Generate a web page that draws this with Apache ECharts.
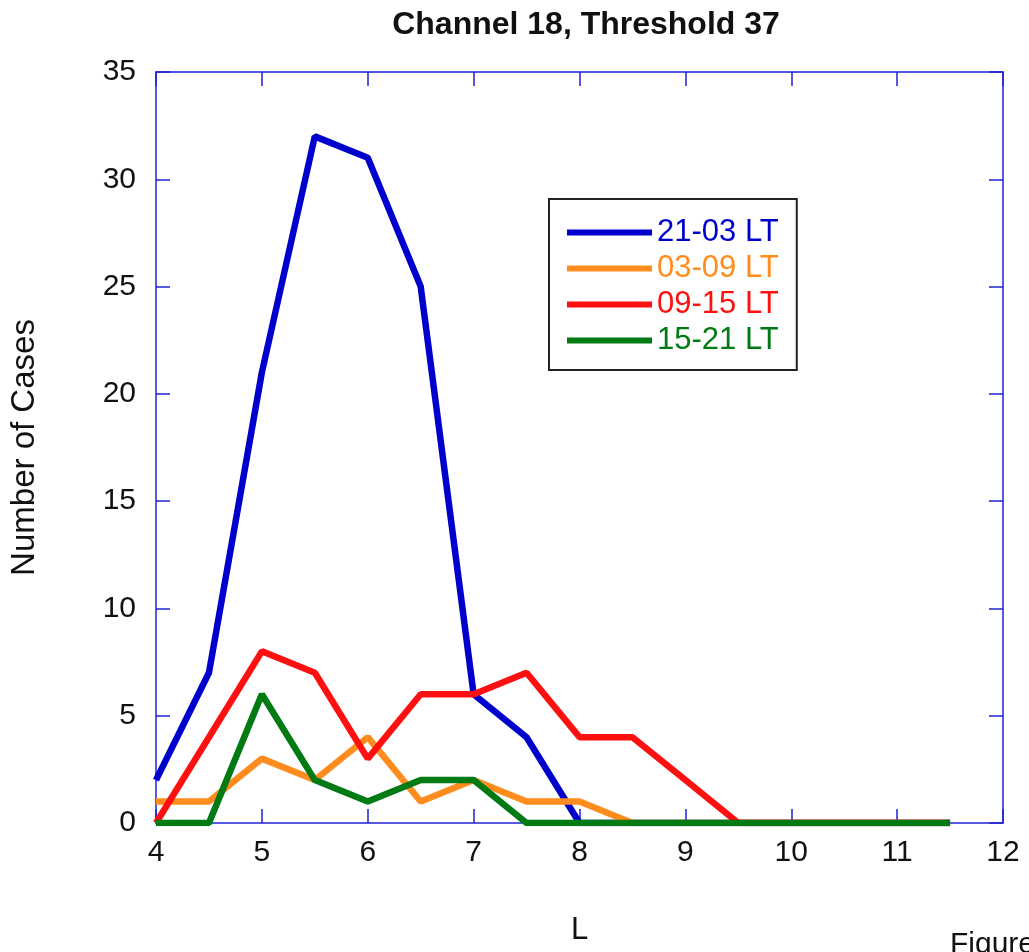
<!DOCTYPE html>
<html>
<head>
<meta charset="utf-8">
<style>
  html, body { margin: 0; padding: 0; background: #fff; }
  #chart { width: 1029px; height: 952px; }
</style>
<script src="https://cdn.jsdelivr.net/npm/echarts@6/dist/echarts.min.js"></script>
</head>
<body>
<div id="chart"></div>
<script>
// L values (x) and number of cases per local-time bin
const lValues = [4, 4.5, 5, 5.5, 6, 6.5, 7, 7.5, 8, 8.5, 9, 9.5, 10, 10.5, 11, 11.5]
const cases2103 = [2, 7, 21, 32, 31, 25, 6, 4, 0, 0, 0, 0, 0, 0, 0, 0]
const cases0309 = [1, 1, 3, 2, 4, 1, 2, 1, 1, 0, 0, 0, 0, 0, 0, 0]
const cases0915 = [0, 4, 8, 7, 3, 6, 6, 7, 4, 4, 2, 0, 0, 0, 0, 0]
const cases1521 = [0, 0, 6, 2, 1, 2, 2, 0, 0, 0, 0, 0, 0, 0, 0, 0]

const seriesNames = ['21-03 LT', '03-09 LT', '09-15 LT', '15-21 LT']
const seriesColors = ['#0000cc', '#ff8c1f', '#ff1010', '#007a12']
const seriesValues = [cases2103, cases0309, cases0915, cases1521]

const axisBlue = '#2020d8'
const font = 'Liberation Sans, Arial, sans-serif'

function pairs(values) {
    return values.map((v, i) => [lValues[i], v])
}

const chart = echarts.init(document.getElementById('chart'))

const baseX = {
    type: 'value', min: 4, max: 12, interval: 1,
    axisLine: { show: true, onZero: false, lineStyle: { color: axisBlue, width: 1.5 } },
    axisTick: { show: true, inside: true, length: 14, lineStyle: { color: axisBlue, width: 1.5 } },
    splitLine: { show: false }
}
const baseY = {
    type: 'value', min: 0, max: 35, interval: 5,
    axisLine: { show: true, onZero: false, lineStyle: { color: axisBlue, width: 1.5 } },
    axisTick: { show: true, inside: true, length: 14, lineStyle: { color: axisBlue, width: 1.5 } },
    splitLine: { show: false }
}

chart.setOption({
    animation: false,
    backgroundColor: '#fff',
    title: {
        text: 'Channel 18, Threshold 37',
        left: 581, top: 4, textAlign: 'center',
        textStyle: { fontFamily: font, fontSize: 32, fontWeight: 'bold', color: '#111' }
    },
    grid: { left: 155, right: 26, top: 72, bottom: 129 },
    legend: {
        orient: 'vertical',
        left: 549, top: 199,
        padding: [18, 18, 14, 18],
        icon: 'rect',
        itemWidth: 85, itemHeight: 6, itemGap: 5,
        borderColor: '#222', borderWidth: 2,
        backgroundColor: '#fff',
        textStyle: { fontFamily: font, fontSize: 31, lineHeight: 31 },
        data: seriesNames.map((n, i) => ({ name: n, textStyle: { color: seriesColors[i] } }))
    },
    xAxis: [
        Object.assign({}, baseX, {
            position: 'bottom',
            name: 'L', nameLocation: 'middle', nameGap: 92,
            nameTextStyle: { fontFamily: font, fontSize: 31, color: '#111' },
            axisLabel: { fontFamily: font, fontSize: 30, color: '#111', margin: 15 }
        }),
        Object.assign({}, baseX, { position: 'top', axisLabel: { show: false } })
    ],
    yAxis: [
        Object.assign({}, baseY, {
            position: 'left',
            name: 'Number of Cases', nameLocation: 'middle', nameGap: 115,
            nameTextStyle: { fontFamily: font, fontSize: 33, color: '#111' },
            axisLabel: { fontFamily: font, fontSize: 30, color: '#111', margin: 20 }
        }),
        Object.assign({}, baseY, { position: 'right', axisLabel: { show: false } })
    ],
    graphic: [{
        type: 'text', left: 950, top: 930,
        style: { text: 'Figure', fontFamily: font, fontSize: 30, fill: '#111' }
    }],
    series: seriesNames.map((n, i) => ({
        name: n,
        type: 'line',
        symbol: 'none',
        data: pairs(seriesValues[i]),
        lineStyle: { color: seriesColors[i], width: 6.5 },
        itemStyle: { color: seriesColors[i] },
        z: 2 + i
    }))
})
</script>
</body>
</html>
